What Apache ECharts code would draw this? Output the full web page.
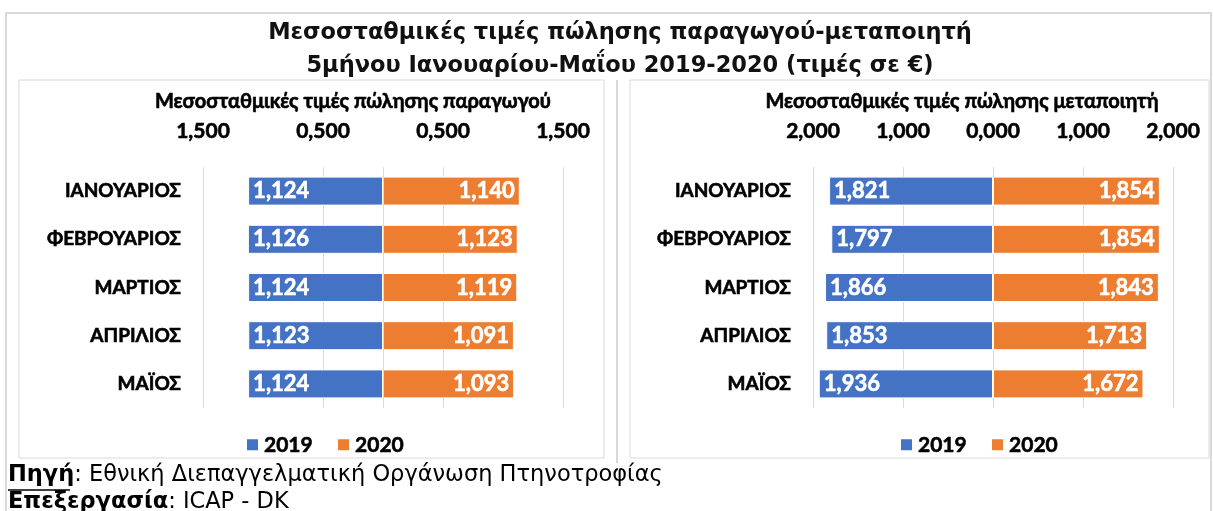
<!DOCTYPE html>
<html><head><meta charset="utf-8">
<script src="https://cdn.jsdelivr.net/npm/echarts@6/dist/echarts.min.js"></script>
<style>html,body{margin:0;padding:0;background:#fff}#c{width:1213px;height:511px}</style>
</head><body><div id="c"></div>
<script>
const months = ['ΙΑΝΟΥΑΡΙΟΣ','ΦΕΒΡΟΥΑΡΙΟΣ','ΜΑΡΤΙΟΣ','ΑΠΡΙΛΙΟΣ','ΜΑΪΟΣ'];
const years = ['2019','2020'];
const producer2019 = [1.124,1.126,1.124,1.123,1.124];
const producer2020 = [1.140,1.123,1.119,1.091,1.093];
const processor2019 = [1.821,1.797,1.866,1.853,1.936];
const processor2020 = [1.854,1.854,1.843,1.713,1.672];
const mainTitle = 'Μεσοσταθμικές τιμές πώλησης παραγωγού-μεταποιητή\n5μήνου Ιανουαρίου-Μαΐου 2019-2020 (τιμές σε €)';
const leftTitle = 'Μεσοσταθμικές τιμές πώλησης παραγωγού';
const rightTitle = 'Μεσοσταθμικές τιμές πώλησης μεταποιητή';
const sourceLabel = 'Πηγή';
const sourceText = 'Εθνική Διεπαγγελματική Οργάνωση Πτηνοτροφίας';
const procLabel = 'Επεξεργασία';
const procText = 'ICAP - DK';

const BLUE = '#4472C4', ORANGE = '#ED7D31', GRID = '#d9d9d9';
const LF = 'Lato';
const HW = 'bold';
const STK = {textBorderColor: '#000', textBorderWidth: 0.6};
const fmt = v => Math.abs(v).toFixed(3).replace('.', ',');

function xAx(idx, min, max, interval) {
  return {
    type: 'value', gridIndex: idx, position: 'top', min, max, interval,
    axisLine: {show: false}, axisTick: {show: false},
    splitLine: {show: true, lineStyle: {color: GRID, width: 1}},
    axisLabel: Object.assign({formatter: fmt, color: '#000', fontFamily: LF, fontWeight: HW, fontSize: 21, margin: 25}, STK)
  };
}
function yAx(idx) {
  return {
    type: 'category', gridIndex: idx, data: months, inverse: true,
    axisLine: {show: false, onZero: false}, axisTick: {show: false},
    axisLabel: Object.assign({color: '#000', fontFamily: LF, fontWeight: HW, fontSize: 19, margin: 22}, STK)
  };
}
function ser(name, idx, vals, neg, color, zeroLine) {
  const s = {
    name, type: 'bar', xAxisIndex: idx, yAxisIndex: idx,
    data: vals.map(v => neg ? -v : v),
    barWidth: 29, barGap: '-100%',
    itemStyle: {color, borderColor: '#fff', borderWidth: 1},
    label: {show: true, position: neg ? 'insideLeft' : 'insideRight', distance: 5,
      color: '#fff', fontFamily: LF, fontWeight: HW, fontSize: 22,
      textBorderColor: '#fff', textBorderWidth: 0.6,
      formatter: p => fmt(p.value)}
  };
  if (zeroLine) s.markLine = {silent: true, symbol: 'none', label: {show: false},
    lineStyle: {color: GRID, type: 'solid', width: 1}, data: [{xAxis: 0}]};
  return s;
}

const chart = echarts.init(document.getElementById('c'));
chart.setOption({
  animation: false,
  title: [
    {text: mainTitle, left: 615, top: 12, textAlign: 'center',
     textStyle: {fontFamily: 'DejaVu Sans', fontWeight: 'bold', fontSize: 22.5, lineHeight: 33, color: '#111'}},
    {text: leftTitle, left: 348, top: 87, textAlign: 'center',
     textStyle: Object.assign({fontFamily: LF, fontWeight: HW, fontSize: 20, color: '#000'}, STK)},
    {text: rightTitle, left: 957, top: 87, textAlign: 'center',
     textStyle: Object.assign({fontFamily: LF, fontWeight: HW, fontSize: 20, color: '#000'}, STK)}
  ],
  grid: [
    {left: 203, top: 167, width: 360, height: 241},
    {left: 813, top: 167, width: 360, height: 241}
  ],
  xAxis: [xAx(0, -1.5, 1.5, 1), xAx(1, -2, 2, 1)],
  yAxis: [yAx(0), yAx(1)],
  legend: [
    {data: years, left: 240, top: 429, itemWidth: 13, itemHeight: 13, itemGap: 23, icon: 'rect',
     textStyle: Object.assign({fontFamily: LF, fontWeight: HW, fontSize: 21, color: '#000'}, STK)},
    {data: years, left: 894, top: 429, itemWidth: 13, itemHeight: 13, itemGap: 23, icon: 'rect',
     textStyle: Object.assign({fontFamily: LF, fontWeight: HW, fontSize: 21, color: '#000'}, STK)}
  ],
  series: [
    ser(years[0], 0, producer2019, true, BLUE, true),
    ser(years[1], 0, producer2020, false, ORANGE, false),
    ser(years[0], 1, processor2019, true, BLUE, false),
    ser(years[1], 1, processor2020, false, ORANGE, false)
  ],
  graphic: [
    {type: 'rect', shape: {x: 6, y: 13, width: 1205, height: 530}, style: {fill: 'none', stroke: GRID, lineWidth: 2}, z: -10},
    {type: 'rect', shape: {x: 19, y: 80, width: 585, height: 378}, style: {fill: 'none', stroke: GRID, lineWidth: 1}, z: -10},
    {type: 'line', shape: {x1: 617, y1: 80, x2: 617, y2: 463}, style: {stroke: GRID, lineWidth: 2}, z: -10},
    {type: 'rect', shape: {x: 630, y: 80, width: 579, height: 378}, style: {fill: 'none', stroke: GRID, lineWidth: 1}, z: -10},
    {type: 'text', left: 8, top: 464, style: {
      text: '{b|' + sourceLabel + '}{r|: ' + sourceText + '}\n{b|' + procLabel + '}{r|: ' + procText + '}',
      rich: {
        b: {fontFamily: 'DejaVu Sans', fontWeight: 'bold', fontSize: 22.5, lineHeight: 27, fill: '#000'},
        r: {fontFamily: 'DejaVu Sans', fontSize: 22.5, lineHeight: 27, fill: '#000'}
      }}},
    {type: 'line', shape: {x1: 8, y1: 490, x2: 70, y2: 490}, style: {stroke: '#000', lineWidth: 1.5}}
  ]
});
</script></body></html>
